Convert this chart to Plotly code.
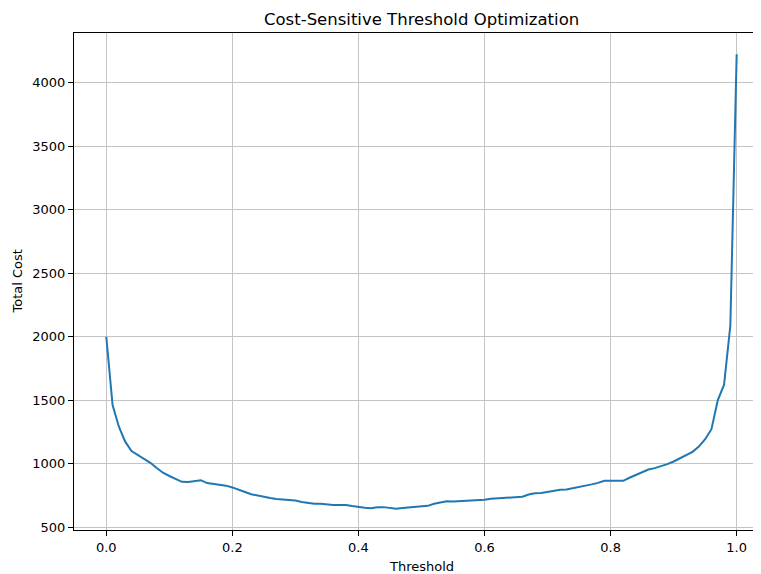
import plotly.graph_objects as go

thresholds = [round(i * 0.01, 2) for i in range(101)]
total_cost = [
    2000, 1462, 1292, 1174, 1100, 1069, 1037, 1008, 967, 930,
    904, 883, 858, 857, 864, 871, 848, 841, 837, 828,
    814, 799, 778, 760, 749, 737, 730, 723, 719, 718,
    711, 700, 693, 686, 685, 678, 675, 676, 675, 667,
    659, 654, 651, 658, 659, 650, 647, 653, 656, 658,
    664, 669, 685, 698, 705, 703, 705, 706, 711, 713,
    717, 724, 727, 733, 735, 736, 741, 758, 768, 770,
    780, 790, 795, 797, 806, 815, 827, 838, 850, 866,
    866, 866, 866, 890, 911, 937, 955, 966, 979, 997,
    1018, 1045, 1071, 1094, 1135, 1193, 1272, 1500, 1622, 2090,
    4222,
]
x_ticks = [0.0, 0.2, 0.4, 0.6, 0.8, 1.0]
x_tick_labels = ["0.0", "0.2", "0.4", "0.6", "0.8", "1.0"]
y_ticks = [500, 1000, 1500, 2000, 2500, 3000, 3500, 4000]
y_tick_labels = [str(v) for v in y_ticks]

# page has an 8px body margin, so the figure is drawn 8px smaller and offset
OFF = 8
W, H = 761 - OFF, 574 - OFF
L, R, T, B = 74 - OFF, 0, 33 - OFF, 574 - 530
FONT = "DejaVu Sans"
PW, PH = W - L - R, H - T - B

fig = go.Figure()
fig.add_trace(go.Scatter(
    x=thresholds, y=total_cost, mode="lines",
    line=dict(color="#1f77b4", width=2),
    showlegend=False,
))

axis_common = dict(
    showline=True, linecolor="black", linewidth=1,
    ticks="outside", ticklen=5, tickwidth=1, tickcolor="black",
    showgrid=True, gridcolor="#c4c4c4", gridwidth=1,
    zeroline=False,
    tickfont=dict(family=FONT, size=13, color="black"),
)

fig.update_xaxes(
    range=[-0.0512, 1.0386], tickvals=x_ticks, ticktext=x_tick_labels,
    mirror=True, **axis_common,
)
fig.update_yaxes(
    range=[479, 4390], tickvals=y_ticks, ticktext=y_tick_labels,
    mirror=False, **axis_common,
)

fig.update_layout(
    width=W, height=H,
    margin=dict(l=L, r=R, t=T, b=B, pad=0),
    plot_bgcolor="white", paper_bgcolor="white",
    font=dict(family=FONT, color="black"),
    annotations=[
        dict(text="Cost-Sensitive Threshold Optimization", xref="paper", yref="paper",
             x=(421 - OFF - L) / PW, y=1 + (T - (20 - OFF)) / PH,
             xanchor="center", yanchor="middle", showarrow=False,
             font=dict(family=FONT, size=16.5, color="black")),
        dict(text="Threshold", xref="paper", yref="paper",
             x=(421 - OFF - L) / PW, y=-(566 - 530) / PH,
             xanchor="center", yanchor="middle", showarrow=False,
             font=dict(family=FONT, size=13, color="black")),
        dict(text="Total Cost", xref="paper", yref="paper",
             x=-(L - (17 - OFF)) / PW, y=0.5, textangle=-90,
             xanchor="center", yanchor="middle", showarrow=False,
             font=dict(family=FONT, size=13, color="black")),
    ],
)

fig.write_html("out.html")
